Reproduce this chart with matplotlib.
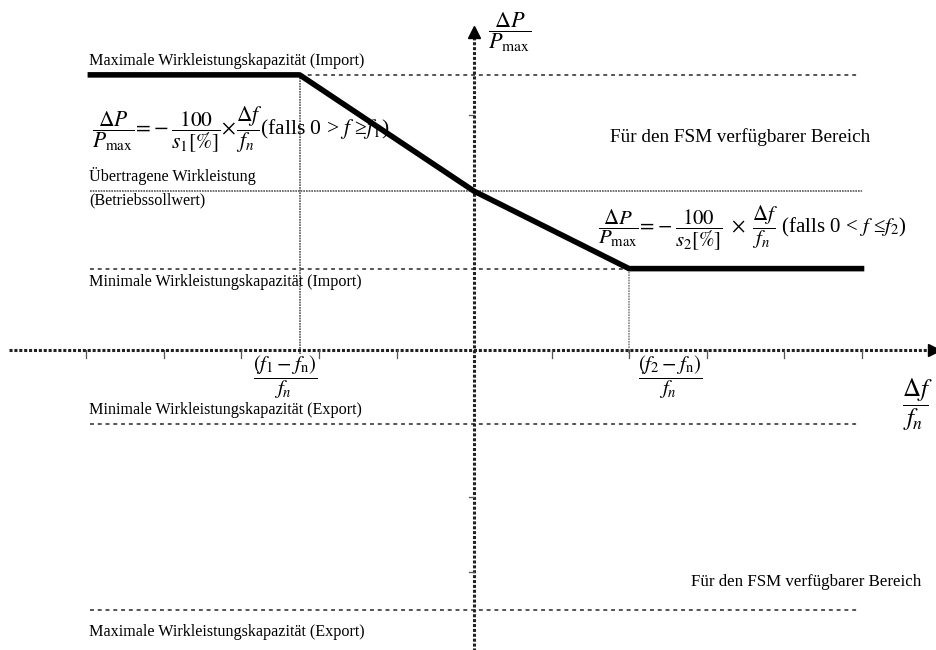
import matplotlib
matplotlib.use("Agg")
import matplotlib.pyplot as plt

plt.rcParams['font.family'] = ['Liberation Serif', 'DejaVu Serif']
plt.rcParams['mathtext.fontset'] = 'stix'

# kennlinie (Delta f / f_n , Delta P / P_max)
curve_x = [-4.95, -2.25, 0.0, 2.0, 5.0]
curve_y = [3.55, 3.55, 2.05, 1.05, 1.05]

f1 = -2.25
f2 = 2.0
max_import = 3.55
setpoint = 2.05
min_import = 1.05
min_export = -0.95
max_export = -3.35

x_ticks = [-5, -4, -3, -2, -1, 1, 2, 3, 4, 5]
y_ticks = [3.03, -1.9, -2.86]

level_labels = ["Maximale Wirkleistungskapazität (Import)",
                "Minimale Wirkleistungskapazität (Import)",
                "Minimale Wirkleistungskapazität (Export)",
                "Maximale Wirkleistungskapazität (Export)"]
area_label = "Für den FSM verfügbarer Bereich"

fig = plt.figure(figsize=(9.36, 6.5), dpi=100)
ax = fig.add_axes([0, 0, 1, 1])
ax.set_xlim(-6.116, 5.961)
ax.set_ylim(-3.871, 4.516)
ax.axis("off")

grey = "#555555"
dash = (0, (2.0, 2.0))
dots = (0, (1.0, 0.6))

# horizontale niveaus
for lvl in [max_import, min_import, min_export, max_export]:
    ax.plot([-4.95, 4.95], [lvl, lvl], color=grey, lw=1.4, ls=dash)
ax.plot([-4.95, 5.0], [setpoint, setpoint], color=grey, lw=1.2, ls=dots)

# senkrechte hilfslinien
ax.plot([f1, f1], [max_import, -0.05], color=grey, lw=1.2, ls=dots)
ax.plot([f2, f2], [min_import, -0.05], color="#888888", lw=1.2, ls=dots)

# achsen
ax.plot([-6.0, 5.9], [0, 0], color="#222222", lw=2.2, ls=dots)
ax.plot([0, 0], [-3.9, 4.05], color="#222222", lw=2.2, ls=dots)
ax.plot([5.93], [0], marker=">", color="black", ms=8)
ax.plot([0], [4.1], marker="^", color="black", ms=8)
for t in x_ticks:
    ax.plot([t, t], [0, -0.1], color=grey, lw=0.9)
for t in y_ticks:
    ax.plot([-0.07, 0], [t, t], color=grey, lw=0.9)

# kennlinie
ax.plot(curve_x, curve_y, color="black", lw=4, solid_joinstyle="round")

# beschriftungen
fs = 11.6
ax.text(-4.97, 3.62, level_labels[0], fontsize=fs, va="bottom")
ax.text(-4.97, 2.245, "Übertragene Wirkleistung", fontsize=fs, va="center")
ax.text(-4.97, 1.935, "(Betriebssollwert)", fontsize=fs, va="center")
ax.text(-4.97, 0.877, level_labels[1], fontsize=fs, va="center")
ax.text(-4.97, -0.774, level_labels[2], fontsize=fs, va="center")
ax.text(-4.97, -3.64, level_labels[3], fontsize=fs, va="center")

ax.text(3.43, 2.75, area_label, fontsize=13.8, ha="center", va="center")
ax.text(4.28, -3.0, area_label, fontsize=12.2, ha="center", va="center")

ax.text(-4.93, 2.84,
        r"$\dfrac{\Delta P}{P_\mathrm{max}}\!=\!-\dfrac{\mathit{100}}{s_1[\%]}\!\times\!\dfrac{\Delta f}{f_n}$(falls 0 > $f$ ≥$f_1$)",
        fontsize=15.5, va="center")
ax.text(1.6, 1.57,
        r"$\dfrac{\Delta P}{P_\mathrm{max}}\!=\!-\dfrac{\mathit{100}}{s_2[\%]}\ \times\ \dfrac{\Delta f}{f_n}$ (falls 0 < $f$ ≤$f_2$)",
        fontsize=15, va="center")

ax.text(0.18, 4.1, r"$\dfrac{\Delta P}{P_\mathrm{max}}$", fontsize=16, va="center")
ax.text(5.72, -0.71, r"$\dfrac{\Delta f}{f_n}$", fontsize=18, ha="center", va="center")
ax.text(f1 - 0.19, -0.35, r"$\dfrac{(f_1-f_\mathrm{n})}{f_n}$", fontsize=15, ha="center", va="center")
ax.text(f2 + 0.53, -0.35, r"$\dfrac{(f_2-f_\mathrm{n})}{f_n}$", fontsize=15, ha="center", va="center")

fig.savefig("out.png", dpi=100)
